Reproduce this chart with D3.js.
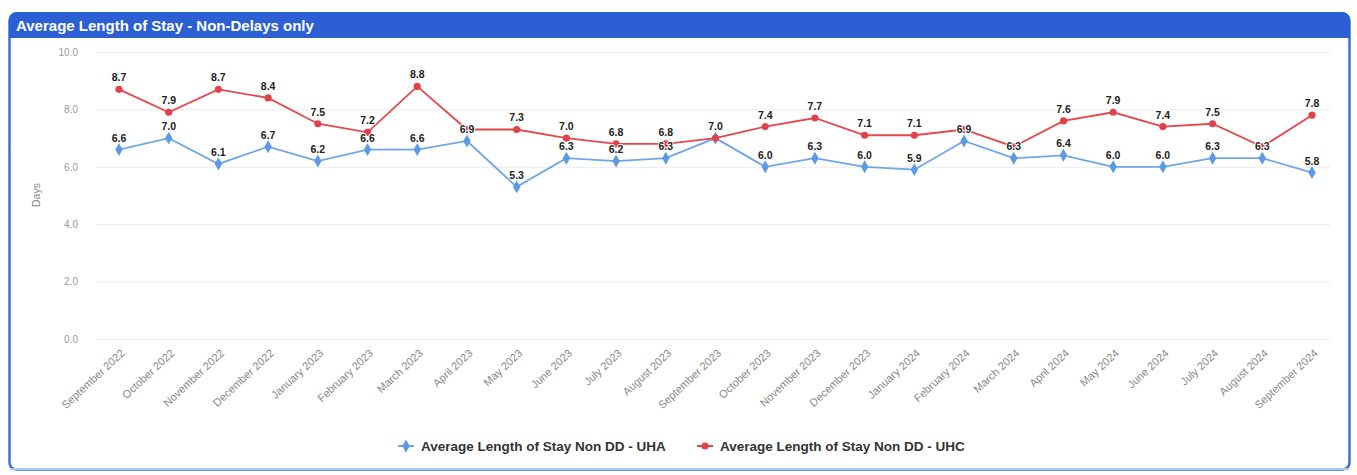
<!DOCTYPE html>
<html><head><meta charset="utf-8">
<script src="https://cdn.jsdelivr.net/npm/d3@7"></script>
<style>
html,body{margin:0;padding:0;background:#fff;}
svg{display:block;font-family:"Liberation Sans",Arial,sans-serif;}
</style></head>
<body><svg id="c" width="1357" height="475"></svg>
<script>
const months = ["September 2022","October 2022","November 2022","December 2022","January 2023","February 2023","March 2023","April 2023","May 2023","June 2023","July 2023","August 2023","September 2023","October 2023","November 2023","December 2023","January 2024","February 2024","March 2024","April 2024","May 2024","June 2024","July 2024","August 2024","September 2024"];
const uha = [6.6,7.0,6.1,6.7,6.2,6.6,6.6,6.9,5.3,6.3,6.2,6.3,7.0,6.0,6.3,6.0,5.9,6.9,6.3,6.4,6.0,6.0,6.3,6.3,5.8];
const uhc = [8.7,7.9,8.7,8.4,7.5,7.2,8.8,7.3,7.3,7.0,6.8,6.8,7.0,7.4,7.7,7.1,7.1,7.3,6.7,7.6,7.9,7.4,7.5,6.7,7.8];
const yTicks = [0,2,4,6,8,10];
const seriesNames = ["Average Length of Stay Non DD - UHA","Average Length of Stay Non DD - UHC"];
const colors = ["#6ea6ea","#e5474e"];

const svg = d3.select("#c");
// panel
svg.append("rect").attr("x",9.5).attr("y",13.5).attr("width",1340).attr("height",456)
  .attr("rx",7).attr("fill","#fff").attr("stroke","#3f6fd6").attr("stroke-width",2.5);
svg.append("path").attr("d","M9,38 L9,21 Q9,12 18,12 L1341,12 Q1350,12 1350,21 L1350,38 Z").attr("fill","#2d5fd4");
svg.append("text").attr("x",16).attr("y",31).attr("fill","#fff").attr("font-weight","bold")
  .attr("font-size",15).text("Average Length of Stay - Non-Delays only");
svg.append("line").attr("x1",10).attr("x2",1349).attr("y1",469).attr("y2",469).attr("stroke","#a9c8f0").attr("stroke-width",2);

const x = d3.scalePoint().domain(months).range([119,1312]);
const y = d3.scaleLinear().domain([0,10]).range([339,52]);

// grid
const yAxis = d3.axisLeft(y).tickValues(yTicks).tickFormat(d3.format(".1f")).tickSize(-(1330-96)).tickPadding(18);
const gy = svg.append("g").attr("transform","translate(96,0)").call(yAxis);
gy.select(".domain").remove();
gy.selectAll(".tick line").attr("stroke","#ececec");
gy.selectAll(".tick text").attr("fill","#9a9a9a").attr("font-size",10).attr("x",-18);

svg.append("text").attr("transform","translate(40,195) rotate(-90)").attr("text-anchor","middle")
  .attr("fill","#888").attr("font-size",10.5).text("Days");

// x axis labels
const xAxis = d3.axisBottom(x).tickSize(0).tickPadding(0);
const gx = svg.append("g").attr("transform","translate(0,339)").call(xAxis);
gx.select(".domain").remove();
gx.selectAll(".tick text").attr("fill","#8a8a8a").attr("font-size",11)
  .attr("text-anchor","end").attr("dy",0).attr("y",0)
  .attr("transform","translate(6,15) rotate(-43)");

// lines
const data = [uha, uhc];
const line = d3.line().x((d,i)=>x(months[i])).y(d=>y(d));
data.forEach((s,k)=>{
  svg.append("path").datum(s).attr("d",line).attr("fill","none").attr("stroke",colors[k]).attr("stroke-width",1.8);
});
// markers
const diamond = d3.symbol().type(d3.symbolDiamond).size(48);
const circle = d3.symbol().type(d3.symbolCircle).size(40);
svg.append("g").selectAll("path").data(uha).join("path")
  .attr("d",diamond).attr("transform",(d,i)=>`translate(${x(months[i])},${y(d)})`).attr("fill","#5d9ae3");
svg.append("g").selectAll("path").data(uhc).join("path")
  .attr("d",circle).attr("transform",(d,i)=>`translate(${x(months[i])},${y(d)})`).attr("fill","#e0414a");

// labels with simple collision hiding (UHA has priority)
const lab = svg.append("g").attr("font-size",10.5).attr("font-weight","bold").attr("text-anchor","middle");
function addLabel(v,i){
  lab.append("text").attr("x",x(months[i])).attr("y",y(v)-8)
    .attr("fill","#222").attr("stroke","#fff").attr("stroke-width",2).attr("paint-order","stroke")
    .attr("stroke-linejoin","round").text(v.toFixed(1));
}
uha.forEach((v,i)=>addLabel(v,i));
uhc.forEach((v,i)=>{
  const dy = Math.abs(y(v)-y(uha[i]));
  if (dy >= 14) addLabel(v,i);
});

// legend
const legend = [{x:398,k:0},{x:697,k:1}];
legend.forEach(l=>{
  const g = svg.append("g").attr("transform",`translate(${l.x},446)`);
  g.append("line").attr("x1",0).attr("x2",16).attr("stroke",colors[l.k]).attr("stroke-width",2);
  g.append("path").attr("d", l.k===0?diamond:circle).attr("transform","translate(8,0)").attr("fill", l.k===0?"#5d9ae3":"#e0414a");
  g.append("text").attr("x",23).attr("y",5).attr("font-size",13.5).attr("font-weight","bold").attr("fill","#333").text(seriesNames[l.k]);
});
</script></body></html>
